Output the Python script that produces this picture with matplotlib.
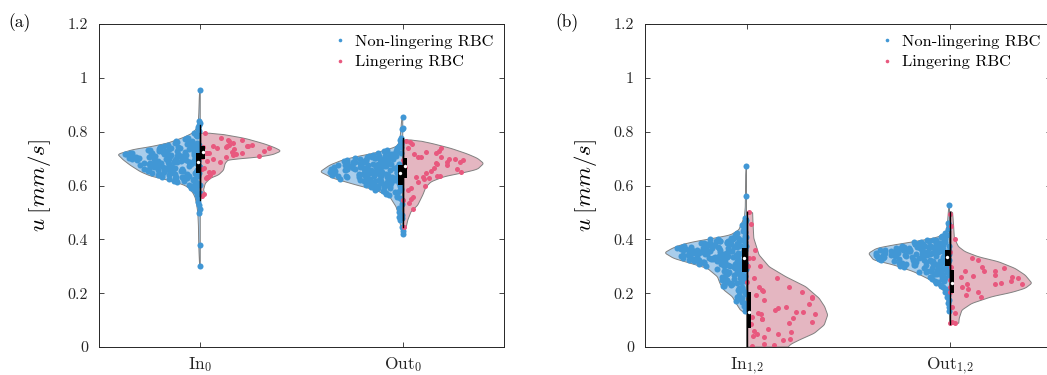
import numpy as np
import matplotlib.pyplot as plt
from matplotlib.lines import Line2D
from matplotlib.patches import Rectangle

plt.rcParams.update({
    'font.family': 'cmr10',
    'mathtext.fontset': 'cm',
    'axes.formatter.use_mathtext': True,
    'axes.unicode_minus': False,
})

# ---- data (u in mm/s) ----
blue_in0 = [
    0.302, 0.378, 0.497, 0.512, 0.528, 0.540, 0.553, 0.566, 0.572, 0.578, 0.583, 0.588, 0.591, 0.594, 0.598,
    0.601, 0.603, 0.606, 0.609, 0.611, 0.613, 0.615, 0.617, 0.619,
    0.621, 0.622, 0.624, 0.625, 0.627, 0.628, 0.629,
    0.630, 0.631, 0.632, 0.633, 0.634, 0.635, 0.636, 0.638, 0.639,
    0.640, 0.641, 0.642, 0.643, 0.644, 0.645, 0.646, 0.647, 0.648, 0.649,
    0.650, 0.651, 0.652, 0.653, 0.654, 0.655, 0.656, 0.657, 0.658, 0.659, 0.659,
    0.660, 0.661, 0.662, 0.663, 0.664, 0.665, 0.666, 0.667, 0.668, 0.669, 0.669,
    0.670, 0.671, 0.672, 0.673, 0.674, 0.675, 0.675, 0.676, 0.677, 0.678, 0.679, 0.679,
    0.680, 0.681, 0.681, 0.682, 0.683, 0.684, 0.685, 0.686, 0.687, 0.687, 0.688, 0.689, 0.689,
    0.690, 0.691, 0.691, 0.692, 0.693, 0.694, 0.695, 0.696, 0.697, 0.697, 0.698, 0.699, 0.699,
    0.700, 0.700, 0.701, 0.702, 0.703, 0.704, 0.704, 0.705, 0.706, 0.707, 0.707, 0.708, 0.709, 0.709,
    0.710, 0.710, 0.711, 0.712, 0.713, 0.713, 0.714, 0.715, 0.716, 0.716, 0.717, 0.718, 0.718, 0.719,
    0.720, 0.721, 0.722, 0.722, 0.723, 0.724, 0.725, 0.726, 0.727, 0.727, 0.728, 0.729,
    0.730, 0.731, 0.732, 0.733, 0.734, 0.735, 0.736, 0.737, 0.738, 0.739,
    0.740, 0.741, 0.742, 0.744, 0.745, 0.746, 0.748, 0.749,
    0.751, 0.752, 0.754, 0.756, 0.757, 0.759,
    0.761, 0.764, 0.766, 0.769, 0.772, 0.775, 0.778, 0.783, 0.787, 0.794, 0.802,
    0.809, 0.818, 0.826, 0.834, 0.840, 0.955]

blue_out0 = [
    0.418, 0.432, 0.445, 0.470, 0.478, 0.484, 0.490, 0.500, 0.515, 0.530, 0.545,
    0.552, 0.557, 0.561, 0.565, 0.568, 0.571, 0.574, 0.576, 0.579,
    0.581, 0.583, 0.585, 0.587, 0.589, 0.590, 0.592, 0.593, 0.595, 0.596, 0.598, 0.599,
    0.600, 0.601, 0.603, 0.604, 0.606, 0.607, 0.608, 0.609,
    0.610, 0.611, 0.612, 0.613, 0.614, 0.615, 0.616, 0.617, 0.618, 0.619,
    0.620, 0.621, 0.622, 0.622, 0.623, 0.624, 0.625, 0.626, 0.627, 0.627, 0.628, 0.629,
    0.630, 0.631, 0.631, 0.632, 0.633, 0.634, 0.635, 0.635, 0.636, 0.637, 0.638, 0.638, 0.639,
    0.640, 0.640, 0.641, 0.642, 0.643, 0.643, 0.644, 0.645, 0.646, 0.646, 0.647, 0.648, 0.649, 0.649,
    0.650, 0.650, 0.651, 0.652, 0.652, 0.653, 0.654, 0.655, 0.655, 0.656, 0.657, 0.657, 0.658, 0.659, 0.659,
    0.660, 0.660, 0.661, 0.662, 0.662, 0.663, 0.664, 0.665, 0.665, 0.666, 0.667, 0.667, 0.668, 0.669, 0.669,
    0.670, 0.670, 0.671, 0.672, 0.673, 0.673, 0.674, 0.675, 0.676, 0.676, 0.677, 0.678, 0.679, 0.679,
    0.680, 0.681, 0.681, 0.682, 0.683, 0.684, 0.685, 0.685, 0.686, 0.687, 0.688, 0.688, 0.689,
    0.690, 0.691, 0.692, 0.693, 0.694, 0.695, 0.696, 0.697, 0.697, 0.698, 0.699,
    0.700, 0.701, 0.702, 0.703, 0.704, 0.705, 0.706, 0.707, 0.708, 0.709,
    0.710, 0.711, 0.713, 0.714, 0.716, 0.717, 0.719, 0.721, 0.723, 0.725, 0.727, 0.729,
    0.732, 0.735, 0.738, 0.742, 0.747, 0.754, 0.763, 0.770, 0.778, 0.810, 0.812, 0.855]

blue_in12 = [
    0.134, 0.145, 0.152, 0.157, 0.162, 0.168, 0.172, 0.177, 0.183, 0.187, 0.191, 0.194, 0.198,
    0.201, 0.204, 0.208, 0.211, 0.213, 0.216, 0.218, 0.221, 0.223, 0.226, 0.228,
    0.230, 0.232, 0.234, 0.236, 0.238, 0.241, 0.243, 0.245, 0.247, 0.249,
    0.250, 0.252, 0.254, 0.256, 0.258, 0.261, 0.263, 0.265, 0.267, 0.269,
    0.270, 0.272, 0.273, 0.275, 0.277, 0.278, 0.280, 0.282, 0.283, 0.285, 0.287, 0.288,
    0.290, 0.291, 0.293, 0.294, 0.296, 0.297, 0.299,
    0.300, 0.301, 0.302, 0.303, 0.304, 0.306, 0.307, 0.308, 0.309,
    0.310, 0.311, 0.312, 0.313, 0.314, 0.315, 0.316, 0.317, 0.318, 0.319,
    0.320, 0.321, 0.322, 0.322, 0.323, 0.324, 0.325, 0.326, 0.327, 0.327, 0.328, 0.329,
    0.330, 0.331, 0.331, 0.332, 0.333, 0.334, 0.335, 0.335, 0.336, 0.337, 0.338, 0.338, 0.339,
    0.340, 0.340, 0.341, 0.342, 0.343, 0.343, 0.344, 0.345, 0.346, 0.346, 0.347, 0.348, 0.349, 0.349,
    0.350, 0.350, 0.351, 0.352, 0.352, 0.353, 0.354, 0.355, 0.355, 0.356, 0.357, 0.357, 0.358, 0.359, 0.359,
    0.360, 0.360, 0.361, 0.362, 0.363, 0.363, 0.364, 0.365, 0.366, 0.366, 0.367, 0.368, 0.369, 0.369,
    0.370, 0.371, 0.371, 0.372, 0.373, 0.374, 0.375, 0.375, 0.376, 0.377, 0.378, 0.378, 0.379,
    0.380, 0.381, 0.382, 0.383, 0.384, 0.385, 0.386, 0.387, 0.387, 0.388, 0.389,
    0.390, 0.391, 0.392, 0.393, 0.394, 0.395, 0.396, 0.397, 0.398,
    0.400, 0.402, 0.403, 0.405, 0.406, 0.408, 0.411, 0.414, 0.416, 0.418,
    0.422, 0.427, 0.432, 0.437, 0.445, 0.455, 0.463, 0.472, 0.480, 0.560, 0.672]

blue_out12 = [
    0.135, 0.150, 0.165, 0.175, 0.185, 0.195, 0.205, 0.214, 0.222, 0.227, 0.232, 0.237,
    0.241, 0.244, 0.247, 0.251, 0.253, 0.256, 0.258, 0.260, 0.262, 0.264, 0.266, 0.268,
    0.270, 0.272, 0.273, 0.275, 0.277, 0.278, 0.280, 0.281, 0.283, 0.284, 0.286, 0.287, 0.289,
    0.290, 0.291, 0.292, 0.293, 0.294, 0.296, 0.297, 0.298, 0.299,
    0.300, 0.301, 0.302, 0.303, 0.304, 0.305, 0.306, 0.307, 0.308, 0.309,
    0.310, 0.311, 0.312, 0.312, 0.313, 0.314, 0.315, 0.316, 0.317, 0.317, 0.318, 0.319,
    0.320, 0.320, 0.321, 0.322, 0.322, 0.323, 0.324, 0.325, 0.325, 0.326, 0.327, 0.328, 0.328, 0.329,
    0.330, 0.330, 0.331, 0.332, 0.332, 0.333, 0.334, 0.335, 0.335, 0.336, 0.337, 0.337, 0.338, 0.339, 0.339,
    0.340, 0.340, 0.341, 0.342, 0.342, 0.343, 0.344, 0.344, 0.345, 0.346, 0.346, 0.347, 0.348, 0.348, 0.349, 0.349,
    0.350, 0.350, 0.351, 0.352, 0.352, 0.353, 0.354, 0.354, 0.355, 0.356, 0.356, 0.357, 0.358, 0.358, 0.359, 0.359,
    0.360, 0.360, 0.361, 0.362, 0.362, 0.363, 0.364, 0.365, 0.365, 0.366, 0.367, 0.367, 0.368, 0.369, 0.369,
    0.370, 0.371, 0.371, 0.372, 0.373, 0.374, 0.375, 0.375, 0.376, 0.377, 0.378, 0.378, 0.379,
    0.380, 0.381, 0.382, 0.383, 0.384, 0.385, 0.386, 0.387, 0.388, 0.389,
    0.390, 0.391, 0.393, 0.394, 0.396, 0.397, 0.399, 0.401, 0.403, 0.406, 0.408,
    0.412, 0.416, 0.424, 0.440, 0.455, 0.460, 0.528]

pink_in0 = [0.562, 0.568, 0.627, 0.630, 0.633, 0.640, 0.649, 0.651, 0.660, 0.666, 0.686, 0.690,
            0.700, 0.705, 0.707, 0.711, 0.713, 0.716, 0.716, 0.719, 0.719, 0.719, 0.722, 0.726,
            0.730, 0.734, 0.738, 0.740, 0.742, 0.744, 0.745, 0.747, 0.747, 0.748, 0.750, 0.752,
            0.757, 0.767, 0.769, 0.770, 0.775, 0.794]
pink_out0 = [0.447, 0.512, 0.535, 0.546, 0.550, 0.558, 0.583, 0.590, 0.600, 0.612, 0.623, 0.627,
             0.630, 0.633, 0.635, 0.635, 0.645, 0.651, 0.655, 0.660, 0.664, 0.670, 0.676, 0.679,
             0.682, 0.686, 0.686, 0.688, 0.695, 0.695, 0.698, 0.700, 0.705, 0.707, 0.707, 0.717,
             0.719, 0.725, 0.729, 0.738, 0.740, 0.754, 0.760, 0.767]
pink_in12 = [0.005, 0.007, 0.012, 0.026, 0.030, 0.038, 0.040, 0.047, 0.047, 0.055, 0.059, 0.067,
             0.085, 0.088, 0.094, 0.104, 0.104, 0.107, 0.110, 0.121, 0.121, 0.125, 0.129, 0.131,
             0.137, 0.146, 0.150, 0.160, 0.175, 0.181, 0.187, 0.193, 0.203, 0.208, 0.212, 0.224,
             0.224, 0.240, 0.255, 0.257, 0.300, 0.301, 0.330, 0.332, 0.360, 0.456, 0.500]
pink_out12 = [0.088, 0.090, 0.092, 0.125, 0.150, 0.187, 0.193, 0.203, 0.205, 0.215, 0.224, 0.224,
              0.233, 0.233, 0.234, 0.237, 0.245, 0.249, 0.257, 0.261, 0.261, 0.265, 0.267, 0.282,
              0.282, 0.283, 0.295, 0.298, 0.298, 0.323, 0.329, 0.354, 0.400, 0.450, 0.495]

# violin outlines: (u level, half width)
vy_blue_in0 = [0.300, 0.350, 0.400, 0.450, 0.500, 0.530, 0.555, 0.571, 0.590, 0.602, 0.620, 0.635, 0.651,
               0.675, 0.695, 0.716, 0.734, 0.744, 0.757, 0.778, 0.794, 0.810, 0.830, 0.870, 0.920, 0.957]
vw_blue_in0 = [0.003, 0.006, 0.008, 0.009, 0.012, 0.018, 0.025, 0.035, 0.055, 0.080, 0.160, 0.245, 0.295,
               0.345, 0.380, 0.408, 0.330, 0.246, 0.163, 0.084, 0.040, 0.020, 0.010, 0.007, 0.005, 0.003]
vy_pink_in0 = [0.556, 0.560, 0.567, 0.583, 0.608, 0.627, 0.639, 0.657, 0.682, 0.697, 0.701, 0.713, 0.728,
               0.740, 0.754, 0.775, 0.790, 0.794, 0.7945]
vw_pink_in0 = [0.0, 0.022, 0.025, 0.016, 0.025, 0.050, 0.090, 0.115, 0.123, 0.140, 0.238, 0.353, 0.400,
               0.370, 0.320, 0.222, 0.110, 0.074, 0.0]
vy_blue_out0 = [0.418, 0.440, 0.472, 0.500, 0.521, 0.558, 0.583, 0.602, 0.627, 0.651, 0.676, 0.695, 0.707,
                0.719, 0.732, 0.744, 0.757, 0.769, 0.800, 0.830, 0.855]
vw_blue_out0 = [0.003, 0.008, 0.016, 0.024, 0.033, 0.064, 0.133, 0.230, 0.345, 0.408, 0.360, 0.296, 0.230,
                0.148, 0.082, 0.033, 0.020, 0.015, 0.010, 0.007, 0.003]
vy_pink_out0 = [0.428, 0.435, 0.472, 0.503, 0.527, 0.565, 0.595, 0.614, 0.633, 0.648, 0.660, 0.682, 0.701,
                0.717, 0.738, 0.757, 0.766, 0.769, 0.7695]
vw_pink_out0 = [0.0, 0.014, 0.025, 0.041, 0.074, 0.099, 0.115, 0.140, 0.205, 0.303, 0.369, 0.400, 0.369,
                0.320, 0.238, 0.140, 0.080, 0.074, 0.0]
vy_blue_in12 = [0.126, 0.130, 0.137, 0.156, 0.187, 0.212, 0.235, 0.261, 0.292, 0.311, 0.329, 0.350, 0.367,
                0.379, 0.391, 0.404, 0.416, 0.435, 0.465, 0.484, 0.520, 0.580, 0.640, 0.672]
vw_blue_in12 = [0.002, 0.015, 0.030, 0.046, 0.070, 0.112, 0.130, 0.143, 0.192, 0.276, 0.358, 0.404, 0.365,
                0.325, 0.260, 0.161, 0.079, 0.038, 0.021, 0.010, 0.006, 0.005, 0.004, 0.002]
vy_pink_in12 = [0.0, 0.010, 0.026, 0.051, 0.082, 0.119, 0.150, 0.181, 0.224, 0.261, 0.298, 0.342, 0.404,
                0.460, 0.503, 0.5035]
vw_pink_in12 = [0.205, 0.218, 0.260, 0.334, 0.383, 0.400, 0.385, 0.358, 0.292, 0.194, 0.112, 0.062, 0.036,
                0.032, 0.030, 0.0]
vy_blue_out12 = [0.128, 0.140, 0.193, 0.218, 0.249, 0.280, 0.305, 0.323, 0.348, 0.367, 0.379, 0.391, 0.404,
                 0.416, 0.435, 0.460, 0.500, 0.531]
vw_blue_out12 = [0.002, 0.007, 0.016, 0.038, 0.094, 0.177, 0.276, 0.374, 0.399, 0.358, 0.276, 0.177, 0.079,
                 0.030, 0.015, 0.010, 0.006, 0.002]
vy_pink_out12 = [0.0835, 0.084, 0.107, 0.137, 0.162, 0.187, 0.203, 0.218, 0.237, 0.267, 0.292, 0.317, 0.335,
                 0.354, 0.373, 0.404, 0.453, 0.503, 0.5035]
vw_pink_out12 = [0.0, 0.045, 0.048, 0.061, 0.110, 0.209, 0.308, 0.373, 0.406, 0.373, 0.323, 0.241, 0.143,
                 0.077, 0.044, 0.024, 0.020, 0.015, 0.0]

# box stats: q1, median, q3, whisker low, whisker high
box_blue = [[0.648, 0.688, 0.720, 0.546, 0.825], [0.602, 0.645, 0.676, 0.472, 0.775],
            [0.280, 0.329, 0.367, 0.135, 0.480], [0.301, 0.333, 0.360, 0.215, 0.430]]
box_pink = [[0.697, 0.723, 0.748, 0.560, 0.795], [0.629, 0.672, 0.703, 0.445, 0.769],
            [0.072, 0.131, 0.205, 0.000, 0.500], [0.202, 0.237, 0.286, 0.085, 0.500]]

BLUE = '#4197D5'
PINK = '#E8587E'
BLUE_FILL = '#A9CDEB'
PINK_FILL = '#E4B6C1'
EDGE = '#808080'


def spread(n, seed):
    # deterministic scatter offsets in [0, 1) for the jitter of the dots
    k = np.arange(1, n + 1) + seed
    return np.modf(np.abs(np.sin(k * 12.9898 + seed * 78.233) * 43758.5453))[0]


def smooth(yy, ww, span=0.005):
    step = yy[1] - yy[0]
    k = max(int(span / step), 1)
    ker = np.ones(2 * k + 1) / (2 * k + 1)
    out = np.convolve(np.pad(ww, k, mode='edge'), ker, mode='valid')
    out[0], out[-1] = ww[0], ww[-1]
    return out


def half_violin(ax, c, vy, vw, pts, side, fill, col, seed, size):
    yy = np.linspace(vy[0], vy[-1], 900)
    ww = smooth(yy, np.interp(yy, vy, vw))
    xs = np.r_[c + side * ww, c, c]
    ys = np.r_[yy, yy[-1], yy[0]]
    ax.fill(xs, ys, fc=fill, ec=EDGE, lw=0.7, zorder=1)
    pts = np.asarray(pts)
    u = spread(len(pts), seed)
    wp = np.interp(pts, yy, ww)
    ax.scatter(c + side * u * wp * 0.94, pts, s=size, color=col, lw=0, zorder=2)


def draw_box(ax, c, side, st):
    q1, med, q3, lo, hi = st
    bw = 0.023
    ax.plot([c, c], [lo, hi], color='k', lw=1.0, zorder=4)
    x0 = c if side > 0 else c - bw
    ax.add_patch(Rectangle((x0, q1), bw, q3 - q1, fc='k', ec='none', zorder=5))
    ax.scatter([c + side * bw / 2], [med], s=6, color='w', lw=0, zorder=6)


fig = plt.figure(figsize=(10.47, 3.75), dpi=100)
ax_a = fig.add_axes([99 / 1047, 28 / 375, 405 / 1047, 323 / 375])
ax_b = fig.add_axes([645 / 1047, 28 / 375, 406 / 1047, 323 / 375])

half_violin(ax_a, 1, vy_blue_in0, vw_blue_in0, blue_in0, -1, BLUE_FILL, BLUE, 1, 19)
half_violin(ax_a, 1, vy_pink_in0, vw_pink_in0, pink_in0, 1, PINK_FILL, PINK, 2, 13)
half_violin(ax_a, 2, vy_blue_out0, vw_blue_out0, blue_out0, -1, BLUE_FILL, BLUE, 3, 19)
half_violin(ax_a, 2, vy_pink_out0, vw_pink_out0, pink_out0, 1, PINK_FILL, PINK, 4, 13)
half_violin(ax_b, 1, vy_blue_in12, vw_blue_in12, blue_in12, -1, BLUE_FILL, BLUE, 5, 19)
half_violin(ax_b, 1, vy_pink_in12, vw_pink_in12, pink_in12, 1, PINK_FILL, PINK, 6, 13)
half_violin(ax_b, 2, vy_blue_out12, vw_blue_out12, blue_out12, -1, BLUE_FILL, BLUE, 7, 19)
half_violin(ax_b, 2, vy_pink_out12, vw_pink_out12, pink_out12, 1, PINK_FILL, PINK, 8, 13)

for i, (ax, c) in enumerate([(ax_a, 1), (ax_a, 2), (ax_b, 1), (ax_b, 2)]):
    draw_box(ax, c, -1, box_blue[i])
    draw_box(ax, c, 1, box_pink[i])

ytick_vals = [0, 0.2, 0.4, 0.6, 0.8, 1.0, 1.2]
ytick_labels = ['0', '0.2', '0.4', '0.6', '0.8', '1', '1.2']
handles = [Line2D([], [], ls='none', marker='o', ms=2.6, mfc=BLUE, mec='none'),
           Line2D([], [], ls='none', marker='o', ms=2.6, mfc=PINK, mec='none')]

for ax, xl, tag, tx in [(ax_a, ['In$_0$', 'Out$_0$'], '(a)', 8),
                        (ax_b, ['In$_{1{,}2}$', 'Out$_{1{,}2}$'], '(b)', 555)]:
    ax.set_xlim(0.5, 2.5)
    ax.set_ylim(0, 1.2)
    ax.set_yticks(ytick_vals)
    ax.set_yticklabels(ytick_labels)
    ax.set_xticks([1, 2])
    ax.set_xticklabels(xl)
    ax.tick_params(direction='in', top=True, right=True, length=3.5, width=0.6,
                   labelsize=11.5, colors='#262626')
    ax.tick_params(axis='y', pad=8)
    ax.tick_params(axis='x', pad=6, labelsize=12.5)
    for sp in ax.spines.values():
        sp.set_linewidth(0.7)
        sp.set_color('#262626')
    ax.set_ylabel(r'$u\;[mm/s]$', fontsize=16.5)
    ax.yaxis.set_label_coords(-46 / 405, 0.5)
    ax.legend(handles, ['Non-lingering RBC', 'Lingering RBC'], loc='upper right',
              frameon=False, fontsize=11.8, handlelength=0.6, handletextpad=0.6,
              labelspacing=0.35, borderaxespad=0.25)
    fig.text(tx / 1047, 1 - 23 / 375, tag, fontsize=12.5, ha='left', va='center')

fig.savefig('out.png', dpi=100)
